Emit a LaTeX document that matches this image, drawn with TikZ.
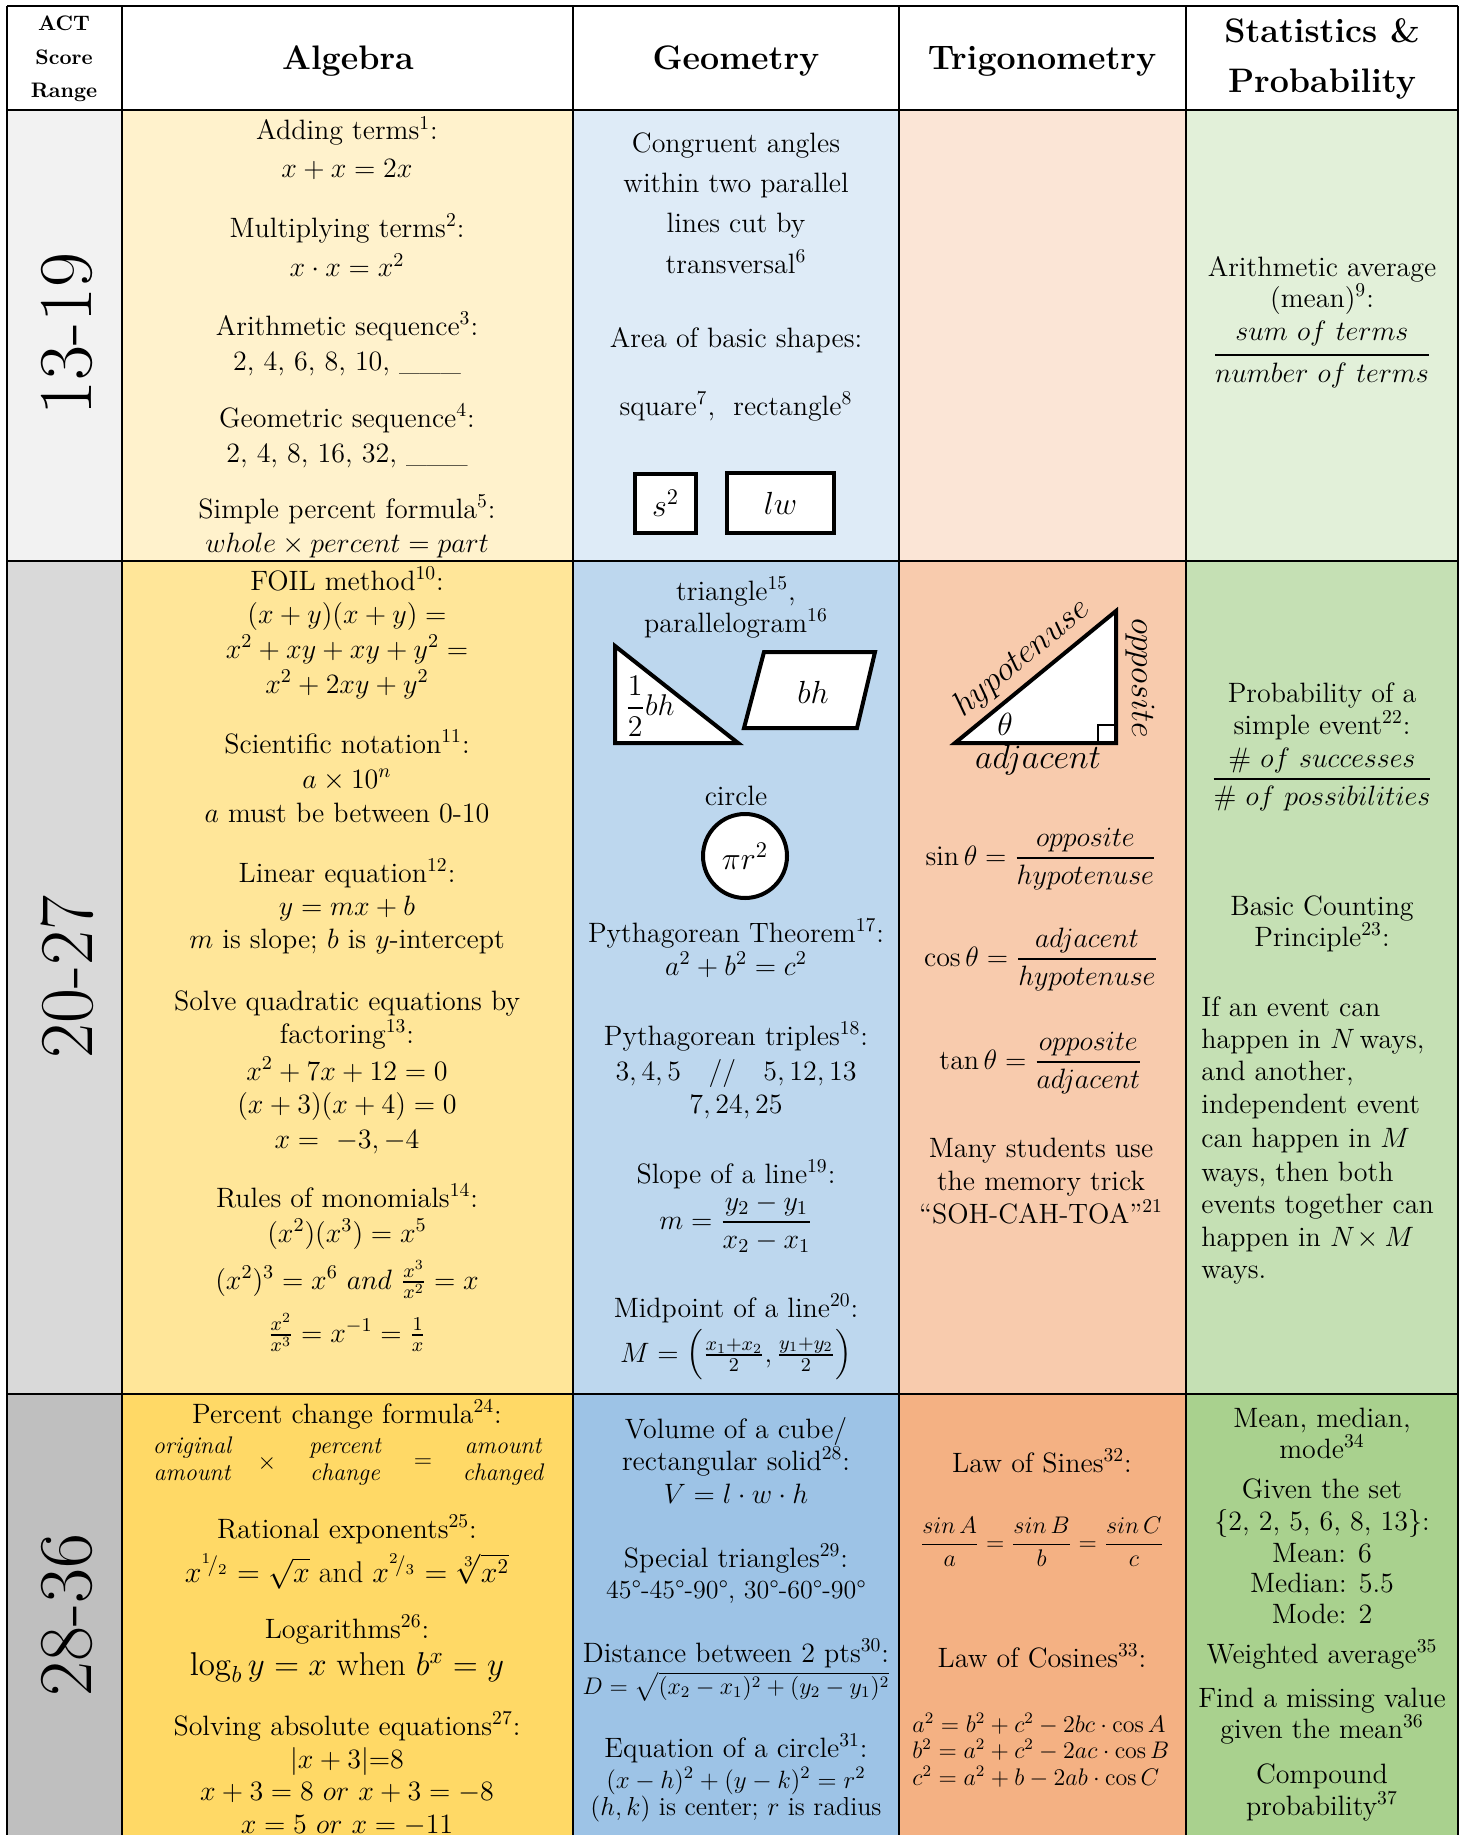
\RequirePackage{fix-cm}
\documentclass[tikz,border=0pt]{standalone}
\usepackage{amsmath}
\usepackage{amssymb}
\usepackage{xcolor}
\definecolor{act1}{HTML}{F2F2F2}
\definecolor{act2}{HTML}{D9D9D9}
\definecolor{act3}{HTML}{BFBFBF}
\definecolor{alg1}{HTML}{FFF2CC}
\definecolor{alg2}{HTML}{FFE699}
\definecolor{alg3}{HTML}{FFD966}
\definecolor{geo1}{HTML}{DEEBF7}
\definecolor{geo2}{HTML}{BDD7EE}
\definecolor{geo3}{HTML}{9DC3E6}
\definecolor{trig1}{HTML}{FBE5D6}
\definecolor{trig2}{HTML}{F8CBAD}
\definecolor{trig3}{HTML}{F4B183}
\definecolor{stat1}{HTML}{E2F0D9}
\definecolor{stat2}{HTML}{C5E0B4}
\definecolor{stat3}{HTML}{A9D18E}
\newcommand{\skw}[2]{{}^{#1}\!/_{#2}}
\newcommand{\numstrut}{\rule[-5.5pt]{0pt}{5.5pt}}
\newcommand{\denstrut}{\rule{0pt}{12pt}}

\begin{document}
\begin{tikzpicture}[x=.5pt, y=-.5pt,
    txt/.style={anchor=base, inner sep=0pt, font=\fontsize{14}{17}\selectfont},
    hdr/.style={anchor=base, inner sep=0pt, font=\bfseries\fontsize{17}{20}\selectfont},
    act/.style={anchor=base, inner sep=0pt, font=\bfseries\fontsize{10.5}{12}\selectfont},
    rng/.style={rotate=90, inner sep=0pt, font=\fontsize{38}{38}\selectfont},
    lbl/.style={inner sep=0pt, font=\fontsize{17}{20}\selectfont},
    ital/.style={anchor=base, inner sep=0pt, font=\itshape\fontsize{12}{14}\selectfont},
    fig/.style={draw, line width=2pt, fill=white}]
\useasboundingbox (0,0) rectangle (1464,1835);
\fill[white] (0,0) rectangle (1464,1835);
% cell colours
\fill[act1] (7,110) rectangle (122,561);
\fill[act2] (7,561) rectangle (122,1394);
\fill[act3] (7,1394) rectangle (122,1835);
\fill[alg1] (122,110) rectangle (573,561);
\fill[alg2] (122,561) rectangle (573,1394);
\fill[alg3] (122,1394) rectangle (573,1835);
\fill[geo1] (573,110) rectangle (899,561);
\fill[geo2] (573,561) rectangle (899,1394);
\fill[geo3] (573,1394) rectangle (899,1835);
\fill[trig1] (899,110) rectangle (1186,561);
\fill[trig2] (899,561) rectangle (1186,1394);
\fill[trig3] (899,1394) rectangle (1186,1835);
\fill[stat1] (1186,110) rectangle (1458,561);
\fill[stat2] (1186,561) rectangle (1458,1394);
\fill[stat3] (1186,1394) rectangle (1458,1835);
% grid
\draw[line width=1.2pt] (7,6) -- (1458,6) (7,110) -- (1458,110) (7,561) -- (1458,561) (7,1394) -- (1458,1394);
\draw[line width=1.2pt] (7,6) -- (7,1840) (122,6) -- (122,1840) (573,6) -- (573,1840) (899,6) -- (899,1840) (1186,6) -- (1186,1840) (1458,6) -- (1458,1840);

% header
\node[act] (actA) at (64,31) {ACT};
\node[act] (actB) at (64,65) {Score};
\node[act] (actC) at (64,98) {Range};
\node[hdr] (halg) at (348,70) {Algebra};
\node[hdr] (hgeo) at (736,70) {Geometry};
\node[hdr] (htrig) at (1042,70) {Trigonometry};
\node[hdr] (hstatA) at (1322,43) {Statistics \&};
\node[hdr] (hstatB) at (1322,93) {Probability};

% score ranges
\node[rng] (rangeA) at (67,334) {13-19};
\node[rng] (rangeB) at (67,977) {20-27};
\node[rng] (rangeC) at (67,1615) {28-36};

% algebra 13-19
\node[txt] (alg1a) at (347,140) {Adding terms\textsuperscript{1}:};
\node[txt] (alg1b) at (347,178) {$x+x=2x$};
\node[txt] (alg1c) at (347,237) {Multiplying terms\textsuperscript{2}:};
\node[txt] (alg1d) at (347,277) {$x\cdot x=x^2$};
\node[txt] (alg1e) at (347,335) {Arithmetic sequence\textsuperscript{3}:};
\node[txt] (alg1f) at (347,370) {2, 4, 6, 8, 10, \_\_\_};
\node[txt] (alg1g) at (347,427) {Geometric sequence\textsuperscript{4}:};
\node[txt] (alg1h) at (347,462) {2, 4, 8, 16, 32, \_\_\_};
\node[txt] (alg1i) at (347,518) {Simple percent formula\textsuperscript{5}:};
\node[txt] (alg1j) at (347,552) {$whole\times percent=part$};

% geometry 13-19
\node[txt] (geo1a) at (736,153) {Congruent angles};
\node[txt] (geo1b) at (736,193) {within two parallel};
\node[txt] (geo1c) at (736,233) {lines cut by};
\node[txt] (geo1d) at (736,273) {transversal\textsuperscript{6}};
\node[txt] (geo1e) at (736,347) {Area of basic shapes:};
\node[txt] (geo1f) at (736,415) {square\textsuperscript{7},\ \ rectangle\textsuperscript{8}};
\node[fig, inner sep=0pt, minimum width=30.5pt, minimum height=29.5pt, font=\fontsize{16}{18}\selectfont] (sqbox) at (665.5,503.5) {$s^2$};
\node[fig, inner sep=0pt, minimum width=53.5pt, minimum height=30pt, font=\fontsize{16}{18}\selectfont] (rectbox) at (780.5,503) {$lw$};

% statistics 13-19
\node[txt] (stat1a) at (1322,277) {Arithmetic average};
\node[txt] (stat1b) at (1322,307) {(mean)\textsuperscript{9}:};
\node[txt] (stat1c) at (1322,362) {$\dfrac{sum\ of\ terms\numstrut}{\denstrut number\ of\ terms}$};

% algebra 20-27
\node[txt] (alg2a) at (347,590) {FOIL method\textsuperscript{10}:};
\node[txt] (alg2b) at (347,623) {$(x+y)(x+y)=$};
\node[txt] (alg2c) at (347,658) {$x^2+xy+xy+y^2=$};
\node[txt] (alg2d) at (347,693) {$x^2+2xy+y^2$};
\node[txt] (alg2e) at (347,753) {Scientific notation\textsuperscript{11}:};
\node[txt] (alg2f) at (347,788) {$a\times 10^n$};
\node[txt] (alg2g) at (347,822) {$a$ must be between 0-10};
\node[txt] (alg2h) at (347,882) {Linear equation\textsuperscript{12}:};
\node[txt] (alg2i) at (347,915) {$y=mx+b$};
\node[txt] (alg2j) at (347,948) {$m$ is slope; $b$ is $y$-intercept};
\node[txt] (alg2k) at (347,1010) {Solve quadratic equations by};
\node[txt] (alg2l) at (347,1043) {factoring\textsuperscript{13}:};
\node[txt] (alg2m) at (347,1080) {$x^2+7x+12=0$};
\node[txt] (alg2n) at (347,1113) {$(x+3)(x+4)=0$};
\node[txt] (alg2o) at (347,1148) {$x=\ -3,-4$};
\node[txt] (alg2p) at (347,1207) {Rules of monomials\textsuperscript{14}:};
\node[txt] (alg2q) at (347,1242) {$(x^2)(x^3)=x^5$};
\node[txt] (alg2r) at (347,1289) {$(x^2)^3=x^6\ and\ \tfrac{x^3}{x^2}=x$};
\node[txt] (alg2s) at (347,1342) {$\tfrac{x^2}{x^3}=x^{-1}=\tfrac{1}{x}$};

% geometry 20-27
\node[txt] (geo2a) at (736,600) {triangle\textsuperscript{15},};
\node[txt] (geo2b) at (736,632) {parallelogram\textsuperscript{16}};
\draw[fig] (615,646) -- (615,743) -- (738,743) -- cycle;
\node[inner sep=0pt, font=\fontsize{15}{18}\selectfont] (tribh) at (650,706) {$\dfrac{1}{2}bh$};
\draw[fig] (764,652) -- (875,652) -- (857,728) -- (744,728) -- cycle;
\node[inner sep=0pt, font=\fontsize{16}{18}\selectfont] (parbh) at (813,692) {$bh$};
\node[txt] (geo2c) at (736,805) {circle};
\node[fig, circle, inner sep=0pt, minimum size=42pt, font=\fontsize{16}{18}\selectfont] (circ) at (745,856) {$\pi r^2$};
\node[txt] (geo2d) at (736,942) {Pythagorean Theorem\textsuperscript{17}:};
\node[txt] (geo2e) at (736,975) {$a^2+b^2=c^2$};
\node[txt] (geo2f) at (736,1045) {Pythagorean triples\textsuperscript{18}:};
\node[txt] (geo2g) at (736,1080) {$3,4,5\ \ \ //\ \ \ 5,12,13$};
\node[txt] (geo2h) at (736,1113) {$7,24,25$};
\node[txt] (geo2i) at (736,1183) {Slope of a line\textsuperscript{19}:};
\node[txt] (geo2j) at (736,1229) {$m=\dfrac{y_2-y_1}{x_2-x_1}$};
\node[txt] (geo2k) at (736,1317) {Midpoint of a line\textsuperscript{20}:};
\node[txt] (geo2l) at (736,1362) {$M=\Bigl(\tfrac{x_1+x_2}{2},\tfrac{y_1+y_2}{2}\Bigr)$};

% trigonometry 20-27
\draw[fig] (955,743) -- (1116,743) -- (1116,611) -- cycle;
\draw[line width=1.4pt] (1098,743) rectangle (1116,725);
\node[inner sep=0pt, font=\fontsize{16}{18}\selectfont] (theta) at (1005,724) {$\theta$};
\node[lbl, rotate=39.4] (hyp) at (1022,658) {$hypotenuse$};
\node[lbl, rotate=-90] (opp) at (1140,678) {$opposite$};
\node[lbl, anchor=base] (adj) at (1038,768) {$adjacent$};
\node[txt] (trig2a) at (1041,865) {$\sin\theta=\dfrac{opposite}{hypotenuse}$};
\node[txt] (trig2b) at (1041,966) {$\cos\theta=\dfrac{adjacent}{hypotenuse}$};
\node[txt] (trig2c) at (1041,1069) {$\tan\theta=\dfrac{opposite}{adjacent}$};
\node[txt] (trig2d) at (1041,1157) {Many students use};
\node[txt] (trig2e) at (1041,1190) {the memory trick};
\node[txt] (trig2f) at (1041,1223) {“SOH-CAH-TOA”\textsuperscript{21}};

% statistics 20-27
\node[txt] (stat2a) at (1322,702) {Probability of a};
\node[txt] (stat2b) at (1322,734) {simple event\textsuperscript{22}:};
\node[txt] (stat2c) at (1322,786) {$\dfrac{\#\ of\ successes}{\#\ of\ possibilities}$};
\node[txt] (stat2d) at (1322,915) {Basic Counting};
\node[txt] (stat2e) at (1322,946) {Principle\textsuperscript{23}:};
\node[txt, anchor=base west] (stat2f) at (1201,1016) {If an event can};
\node[txt, anchor=base west] (stat2g) at (1201,1048) {happen in $N$\,ways,};
\node[txt, anchor=base west] (stat2h) at (1201,1080) {and another,};
\node[txt, anchor=base west] (stat2i) at (1201,1113) {independent event};
\node[txt, anchor=base west] (stat2j) at (1201,1147) {can happen in $M$};
\node[txt, anchor=base west] (stat2k) at (1201,1181) {ways, then both};
\node[txt, anchor=base west] (stat2l) at (1201,1213) {events together can};
\node[txt, anchor=base west] (stat2m) at (1201,1246) {happen in $N\!\times M$};
\node[txt, anchor=base west] (stat2n) at (1201,1278) {ways.};

% algebra 28-36
\node[txt] (alg3a) at (347,1423) {Percent change formula\textsuperscript{24}:};
\node[ital] (origA) at (192,1453) {original};
\node[ital] (origB) at (192,1480) {amount};
\node[inner sep=0pt, font=\fontsize{12}{14}\selectfont] (times) at (267,1463) {$\times$};
\node[ital] (pctA) at (345,1453) {percent};
\node[ital] (pctB) at (345,1480) {change};
\node[inner sep=0pt, font=\fontsize{12}{14}\selectfont] (equals) at (423,1463) {$=$};
\node[ital] (amtA) at (503,1453) {amount};
\node[ital] (amtB) at (503,1480) {changed};
\node[txt] (alg3b) at (347,1538) {Rational exponents\textsuperscript{25}:};
\node[txt, font=\fontsize{15}{18}\selectfont] (alg3c) at (347,1582) {$x^{\skw12}=\sqrt{x}$ and $x^{\skw23}=\sqrt[3]{x^2}$};
\node[txt] (alg3d) at (347,1638) {Logarithms\textsuperscript{26}:};
\node[txt, font=\fontsize{16.5}{19}\selectfont] (alg3e) at (347,1675) {$\log_b y=x$ when $b^x=y$};
\node[txt] (alg3f) at (347,1735) {Solving absolute equations\textsuperscript{27}:};
\node[txt] (alg3g) at (347,1768) {$|x+3|{=}8$};
\node[txt] (alg3h) at (347,1800) {$x+3=8\ or\ x+3=-8$};
\node[txt] (alg3i) at (347,1833) {$x=5\ or\ x=-11$};

% geometry 28-36
\node[txt] (geo3a) at (736,1438) {Volume of a cube/};
\node[txt] (geo3b) at (736,1470) {rectangular solid\textsuperscript{28}:};
\node[txt] (geo3c) at (736,1503) {$V=l\cdot w\cdot h$};
\node[txt] (geo3d) at (736,1567) {Special triangles\textsuperscript{29}:};
\node[txt, font=\fontsize{13}{16}\selectfont] (geo3e) at (736,1598) {45°-45°-90°, 30°-60°-90°};
\node[txt] (geo3f) at (736,1662) {Distance between 2 pts\textsuperscript{30}:};
\node[txt, font=\fontsize{12}{14}\selectfont] (geo3g) at (736,1694) {$D=\sqrt{(x_2-x_1)^2+(y_2-y_1)^2}$};
\node[txt] (geo3h) at (736,1757) {Equation of a circle\textsuperscript{31}:};
\node[txt, font=\fontsize{12.5}{15}\selectfont] (geo3i) at (736,1788) {$(x-h)^2+(y-k)^2=r^2$};
\node[txt, font=\fontsize{13}{16}\selectfont] (geo3j) at (736,1815) {$(h,k)$ is center; $r$ is radius};

% trigonometry 28-36
\node[txt] (trig3a) at (1042,1472) {Law of Sines\textsuperscript{32}:};
\node[txt, font=\fontsize{12}{14}\selectfont] (trig3b) at (1042,1550) {$\dfrac{sin\,A}{a}=\dfrac{sin\,B}{b}=\dfrac{sin\,C}{c}$};
\node[txt] (trig3c) at (1042,1667) {Law of Cosines\textsuperscript{33}:};
\node[txt, anchor=base west, font=\fontsize{12}{14}\selectfont] (trig3d) at (912,1732) {$a^2=b^2+c^2-2bc\cdot\cos A$};
\node[txt, anchor=base west, font=\fontsize{12}{14}\selectfont] (trig3e) at (912,1758) {$b^2=a^2+c^2-2ac\cdot\cos B$};
\node[txt, anchor=base west, font=\fontsize{12}{14}\selectfont] (trig3f) at (912,1785) {$c^2=a^2+b-2ab\cdot\cos C$};

% statistics 28-36
\node[txt] (stat3a) at (1322,1427) {Mean, median,};
\node[txt] (stat3b) at (1322,1458) {mode\textsuperscript{34}};
\node[txt] (stat3c) at (1322,1498) {Given the set};
\node[txt] (stat3d) at (1322,1530) {\{2, 2, 5, 6, 8, 13\}:};
\node[txt] (stat3e) at (1322,1562) {Mean: 6};
\node[txt] (stat3f) at (1322,1592) {Median: 5.5};
\node[txt] (stat3g) at (1322,1623) {Mode: 2};
\node[txt] (stat3h) at (1322,1663) {Weighted average\textsuperscript{35}};
\node[txt] (stat3i) at (1322,1707) {Find a missing value};
\node[txt] (stat3j) at (1322,1738) {given the mean\textsuperscript{36}};
\node[txt] (stat3k) at (1322,1783) {Compound};
\node[txt] (stat3l) at (1322,1815) {probability\textsuperscript{37}};
\end{tikzpicture}
\end{document}
